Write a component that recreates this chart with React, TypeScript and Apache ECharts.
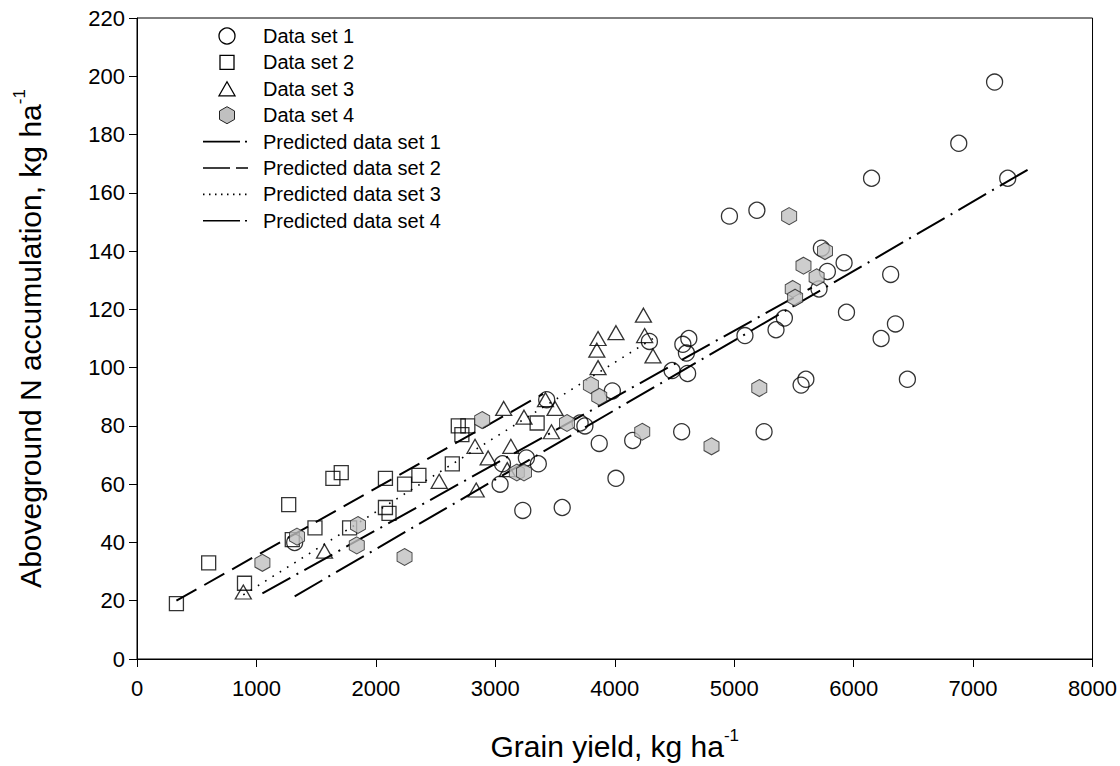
import React, { useEffect, useRef } from "react";
import * as echarts from "echarts";

// Data set 1 (open circles)
const set1X = [1320, 3040, 3060, 3230, 3260, 3360, 3560, 3430, 3710, 3750, 3870, 3980, 4010, 4150, 4290, 4480, 4560, 4570, 4600, 4610, 4620, 4960, 5090, 5190, 5250, 5350, 5420, 5560, 5600, 5710, 5730, 5780, 5920, 5940, 6150, 6230, 6310, 6350, 6450, 6880, 7180, 7290];
const set1Y = [40, 60, 67, 51, 69, 67, 52, 89, 81, 80, 74, 92, 62, 75, 109, 99, 78, 108, 105, 98, 110, 152, 111, 154, 78, 113, 117, 94, 96, 127, 141, 133, 136, 119, 165, 110, 132, 115, 96, 177, 198, 165];

// Data set 2 (open squares)
const set2X = [330, 600, 900, 1270, 1300, 1490, 1640, 1710, 1780, 2080, 2080, 2110, 2240, 2360, 2640, 2690, 2720, 2770, 3350];
const set2Y = [19, 33, 26, 53, 41, 45, 62, 64, 45, 62, 52, 50, 60, 63, 67, 80, 77, 80, 81];

// Data set 3 (open triangles)
const set3X = [890, 1570, 2530, 2840, 2830, 2940, 3100, 3130, 3070, 3240, 3420, 3500, 3470, 3860, 3850, 3860, 4010, 4240, 4250, 4320];
const set3Y = [23, 37, 61, 58, 73, 69, 65, 73, 86, 83, 89, 86, 78, 100, 106, 110, 112, 118, 111, 104];

// Data set 4 (grey hexagons)
const set4X = [1050, 1340, 1840, 1850, 2240, 2890, 3180, 3240, 3600, 3800, 3870, 4230, 4810, 5210, 5460, 5490, 5510, 5580, 5690, 5760];
const set4Y = [33, 42, 39, 46, 35, 82, 64, 64, 81, 94, 90, 78, 73, 93, 152, 127, 124, 135, 131, 140];

// Predicted lines (end points)
const pred1X = [1320, 7460];
const pred1Y = [21.5, 168];
const pred2X = [330, 3400];
const pred2Y = [20, 91];
const pred3X = [890, 4320];
const pred3Y = [22, 110];
const pred4X = [1050, 5650];
const pred4Y = [22.5, 127.5];

const seriesNames = [
  "Data set 1",
  "Data set 2",
  "Data set 3",
  "Data set 4",
  "Predicted data set 1",
  "Predicted data set 2",
  "Predicted data set 3",
  "Predicted data set 4",
];

const xTicks = { min: 0, max: 8000, interval: 1000 };
const yTicks = { min: 0, max: 220, interval: 20 };

const zip = (xs: number[], ys: number[]) => xs.map((x, i) => [x, ys[i]]);

const FONT = "'Liberation Sans', Arial, sans-serif";
const HEX = "path://M0,-1 L0.866,-0.5 L0.866,0.5 L0,1 L-0.866,0.5 L-0.866,-0.5 Z";
const HEX_FILL = "#c0c0c0";

const DASH_DOT = [32, 7, 2, 7];
const DASH = [23, 9];
const DOT = [1.6, 7];

function buildLegend() {
  const els: any[] = [];
  const sx = 227;
  const lx1 = 203;
  const lx2 = 248;
  const tx = 263;
  const rowY = (i: number) => 36 + i * 26.4;
  const open = { fill: "none", stroke: "#000", lineWidth: 1.3 };
  // symbols
  let cy = rowY(0);
  els.push({ type: "circle", shape: { cx: sx, cy, r: 8 }, style: open });
  cy = rowY(1);
  els.push({ type: "rect", shape: { x: sx - 7, y: cy - 7, width: 14, height: 14 }, style: open });
  cy = rowY(2);
  els.push({ type: "polygon", shape: { points: [[sx, cy - 7], [sx + 8, cy + 7], [sx - 8, cy + 7]] }, style: open });
  cy = rowY(3);
  const hx = 7.5, hy = 8.5;
  els.push({
    type: "polygon",
    shape: { points: [[sx, cy - hy], [sx + hx, cy - hy / 2], [sx + hx, cy + hy / 2], [sx, cy + hy], [sx - hx, cy + hy / 2], [sx - hx, cy - hy / 2]] },
    style: { fill: HEX_FILL, stroke: "#222", lineWidth: 1 },
  });
  const dashes = [[37, 5, 2, 5], [27, 6], [1.5, 4.5], [37, 5, 2, 5]];
  for (let k = 0; k < 4; k++) {
    const y = rowY(4 + k);
    els.push({
      type: "line",
      shape: { x1: lx1, y1: y, x2: lx2, y2: y },
      style: { stroke: "#000", lineWidth: 1.6, lineDash: dashes[k] },
    });
  }
  seriesNames.forEach((name, i) => {
    els.push({
      type: "text",
      x: tx,
      y: rowY(i),
      style: {
        text: name,
        fill: "#000",
        fontSize: 20,
        fontFamily: FONT,
        verticalAlign: "middle",
        textVerticalAlign: "middle",
        align: "left",
      },
    });
  });
  return els;
}

export default function App() {
  const ref = useRef<HTMLDivElement>(null);

  useEffect(() => {
    document.body.style.margin = "0";
    const chart = echarts.init(ref.current!, undefined, { renderer: "svg" });
    const openStyle = { color: "rgba(0,0,0,0)", borderColor: "#000", borderWidth: 1.3 };
    const lineSeries = (name: string, xs: number[], ys: number[], type: any, width: number) => ({
      name,
      type: "line",
      data: zip(xs, ys),
      symbol: "none",
      showSymbol: false,
      lineStyle: { color: "#000", width, type },
      itemStyle: { color: "#000" },
      z: 1,
    });
    const axisName = {
      rich: {
        t: { fontSize: 30, color: "#000", fontFamily: FONT, lineHeight: 34, verticalAlign: "bottom" },
        s: { fontSize: 17, color: "#000", fontFamily: FONT, lineHeight: 34, verticalAlign: "top" },
      },
    };
    chart.setOption({
      animation: false,
      backgroundColor: "#fff",
      textStyle: { fontFamily: FONT },
      grid: {
        left: 137,
        right: 27,
        top: 18,
        bottom: 106,
        show: true,
        borderColor: "#000",
        borderWidth: 1,
        backgroundColor: "rgba(0,0,0,0)",
      },
      graphic: buildLegend(),
      xAxis: {
        type: "value",
        min: xTicks.min,
        max: xTicks.max,
        interval: xTicks.interval,
        name: "{t|Grain yield, kg ha}{s|-1}",
        nameLocation: "middle",
        nameGap: 68,
        nameTextStyle: axisName,
        axisLine: { show: true, lineStyle: { color: "#000", width: 1 } },
        axisTick: { show: true, inside: false, length: 8, lineStyle: { color: "#000" } },
        axisLabel: { fontSize: 22, color: "#000", margin: 18, fontFamily: FONT, formatter: (v: number) => String(v) },
        splitLine: { show: false },
      },
      yAxis: {
        type: "value",
        min: yTicks.min,
        max: yTicks.max,
        interval: yTicks.interval,
        name: "{t|Aboveground N accumulation, kg ha}{s|-1}",
        nameLocation: "middle",
        nameRotate: 90,
        nameGap: 92,
        nameTextStyle: axisName,
        axisLine: { show: true, lineStyle: { color: "#000", width: 1 } },
        axisTick: { show: true, inside: false, length: 8, lineStyle: { color: "#000" } },
        axisLabel: { fontSize: 22, color: "#000", margin: 12, fontFamily: FONT },
        splitLine: { show: false },
      },
      series: [
        { name: seriesNames[0], type: "scatter", data: zip(set1X, set1Y), symbol: "circle", symbolSize: 16, itemStyle: openStyle, z: 3 },
        { name: seriesNames[1], type: "scatter", data: zip(set2X, set2Y), symbol: "rect", symbolSize: 14, itemStyle: openStyle, z: 3 },
        { name: seriesNames[2], type: "scatter", data: zip(set3X, set3Y), symbol: "triangle", symbolSize: [16, 14], itemStyle: openStyle, z: 3 },
        {
          name: seriesNames[3],
          type: "scatter",
          data: zip(set4X, set4Y),
          symbol: HEX,
          symbolSize: [15, 17],
          itemStyle: { color: HEX_FILL, borderColor: "#222", borderWidth: 1 },
          z: 4,
        },
        lineSeries(seriesNames[4], pred1X, pred1Y, DASH_DOT, 2),
        lineSeries(seriesNames[5], pred2X, pred2Y, DASH, 2),
        lineSeries(seriesNames[6], pred3X, pred3Y, DOT, 1.6),
        lineSeries(seriesNames[7], pred4X, pred4Y, DASH_DOT, 2),
      ],
    });
    return () => chart.dispose();
  }, []);

  return <div ref={ref} style={{ width: 1120, height: 766 }} />;
}
